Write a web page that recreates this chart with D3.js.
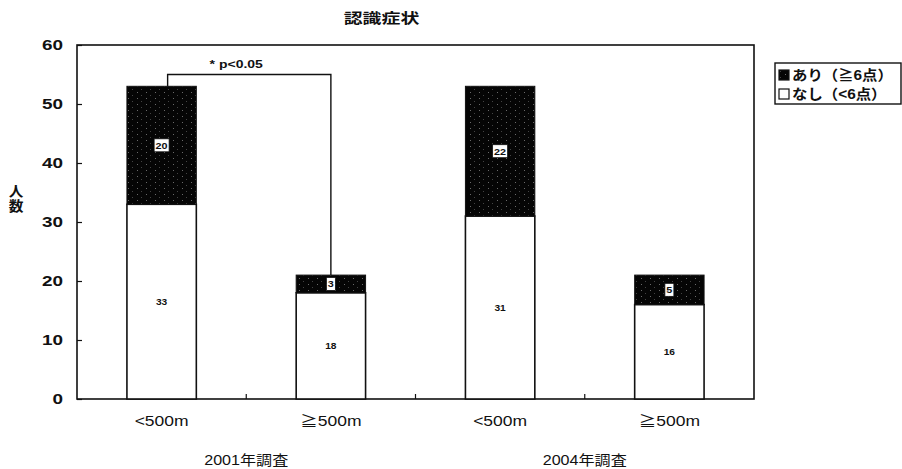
<!DOCTYPE html>
<html>
<head>
<meta charset="utf-8">
<script src="https://cdn.jsdelivr.net/npm/d3@7"></script>
<style>
  body { margin: 0; background: #fff; }
  svg text { font-family: "Liberation Sans", "Noto Sans CJK JP", sans-serif; fill: #111; }
</style>
</head>
<body>
<div id="plot"></div>
<script>
var categories = ["<500m", "≧500m", "<500m", "≧500m"];
var groups = ["2001年調査", "2004年調査"];
var withSymptom = [20, 3, 22, 5];
var withoutSymptom = [33, 18, 31, 16];
var yTicks = [0, 10, 20, 30, 40, 50, 60];
var legendLabels = ["あり（≧6点）", "なし（<6点）"];
var title = "認識症状";
var yTitle = ["人", "数"];
var sigLevel = 55;
var sigText = "* p<0.05";

const w = 902;
const h = 469;
const plotLeft = 77, plotRight = 754, plotTop = 45, plotBottom = 399;
const sx = 1.35; // scan is stretched sideways

const svg = d3.select("div#plot")
  .append("svg")
  .attr("width", w)
  .attr("height", h);

// stipple pattern for the dark part
const defs = svg.append("defs");
const pat = defs.append("pattern")
  .attr("id", "dark")
  .attr("patternUnits", "userSpaceOnUse")
  .attr("width", 9)
  .attr("height", 6);
pat.append("rect").attr("width", 9).attr("height", 6).attr("fill", "#050505");
pat.append("rect").attr("x", 2).attr("y", 2).attr("width", 1).attr("height", 1).attr("fill", "#6a6a6a");
pat.append("rect").attr("x", 6).attr("y", 5).attr("width", 1).attr("height", 1).attr("fill", "#444");

let xScale = d3.scaleBand()
  .domain(d3.range(categories.length))
  .range([plotLeft, plotRight])
  .paddingInner(0.59)
  .paddingOuter(0.295);
let yScale = d3.scaleLinear().domain([0, 60]).range([plotBottom, plotTop]);
const bw = xScale.bandwidth();

function label(x, y, text, size, anchor, weight, scale) {
  return svg.append("text")
    .attr("transform", `translate(${x},${y}) scale(${scale || sx},1)`)
    .attr("text-anchor", anchor || "middle")
    .attr("font-size", size)
    .attr("font-weight", weight || "normal")
    .text(text);
}

// frame
svg.append("rect")
  .attr("x", plotLeft).attr("y", plotTop)
  .attr("width", plotRight - plotLeft).attr("height", plotBottom - plotTop)
  .attr("fill", "none").attr("stroke", "#111").attr("stroke-width", 1.6);

// y axis
const yAxis = d3.axisLeft(yScale)
  .tickValues(yTicks)
  .tickSizeInner(-5)
  .tickSizeOuter(0)
  .tickPadding(14 / sx)
  .tickFormat(d => d);
const yg = svg.append("g")
  .attr("transform", `translate(${plotLeft},0)`)
  .call(yAxis);
yg.select(".domain").remove();
yg.selectAll(".tick line").attr("stroke", "#111").attr("stroke-width", 1.2);
yg.selectAll(".tick text")
  .attr("font-size", 14)
  .attr("font-weight", "bold")
  .attr("font-family", "Liberation Sans, sans-serif")
  .attr("fill", "#111")
  .attr("transform", `scale(${sx},1)`);

// small ticks on the bottom between categories
svg.selectAll(".xtick")
  .data(d3.range(categories.length - 1))
  .enter()
  .append("line")
  .attr("class", "xtick")
  .attr("x1", i => xScale(i) + xScale.step() - xScale.step() * 0.295)
  .attr("x2", i => xScale(i) + xScale.step() - xScale.step() * 0.295)
  .attr("y1", plotBottom)
  .attr("y2", plotBottom - 5)
  .attr("stroke", "#111")
  .attr("stroke-width", 1.2);

// bars
const idx = d3.range(categories.length);
svg.selectAll(".bar-low")
  .data(idx)
  .enter()
  .append("rect")
  .attr("class", "bar-low")
  .attr("x", i => xScale(i))
  .attr("y", i => yScale(withoutSymptom[i]))
  .attr("width", bw)
  .attr("height", i => yScale(0) - yScale(withoutSymptom[i]))
  .attr("fill", "#fff")
  .attr("stroke", "#111")
  .attr("stroke-width", 1.6);

svg.selectAll(".bar-high")
  .data(idx)
  .enter()
  .append("rect")
  .attr("class", "bar-high")
  .attr("x", i => xScale(i))
  .attr("y", i => yScale(withoutSymptom[i] + withSymptom[i]))
  .attr("width", bw)
  .attr("height", i => yScale(withoutSymptom[i]) - yScale(withoutSymptom[i] + withSymptom[i]))
  .attr("fill", "url(#dark)")
  .attr("stroke", "#111")
  .attr("stroke-width", 1);

// value labels
idx.forEach(i => {
  const cx = xScale(i) + bw / 2;
  const yLow = (yScale(0) + yScale(withoutSymptom[i])) / 2;
  label(cx, yLow + 3, withoutSymptom[i], 8.5, "middle", "bold", 1.2);

  const yHigh = (yScale(withoutSymptom[i]) + yScale(withoutSymptom[i] + withSymptom[i])) / 2;
  const txt = String(withSymptom[i]);
  const bwid = txt.length * 6 + 3;
  svg.append("rect")
    .attr("x", cx - bwid / 2)
    .attr("y", yHigh - 6.5)
    .attr("width", bwid)
    .attr("height", 13)
    .attr("fill", "#fff")
    .attr("stroke", "#111")
    .attr("stroke-width", 0.8);
  label(cx, yHigh + 3.5, txt, 9, "middle", "bold", 1.2);
});

// significance bracket
const bx1 = xScale(0) + bw / 2 + 6;
const bx2 = xScale(1) + bw / 2;
svg.append("path")
  .attr("d", `M${bx1},${yScale(withoutSymptom[0] + withSymptom[0])}V${yScale(sigLevel)}H${bx2}V${yScale(withoutSymptom[1] + withSymptom[1])}`)
  .attr("fill", "none")
  .attr("stroke", "#111")
  .attr("stroke-width", 1.4);
label((bx1 + bx2) / 2 - 13, yScale(sigLevel) - 7, sigText, 10, "middle", "bold", 1.4);

// category labels
idx.forEach(i => {
  label(xScale(i) + bw / 2, 426, categories[i], 14, "middle", "normal", 1.25);
});

// group labels
groups.forEach((g, k) => {
  const a = xScale(k * 2) + bw / 2;
  const b = xScale(k * 2 + 1) + bw / 2;
  label((a + b) / 2, 465, g, 14, "middle", "normal", 1.15);
});

// title
label((plotLeft + plotRight) / 2 - 34, 23, title, 14, "middle", "bold", sx);

// y title, stacked vertically
yTitle.forEach((c, k) => {
  label(16, 196 + k * 15, c, 14, "middle", "bold", 1.05);
});

// legend
svg.append("rect")
  .attr("x", 775).attr("y", 63)
  .attr("width", 126).attr("height", 41)
  .attr("fill", "#fff").attr("stroke", "#111").attr("stroke-width", 1.4);
const swFill = ["url(#dark)", "#fff"];
legendLabels.forEach((t, k) => {
  const ly = 70 + k * 19;
  svg.append("rect")
    .attr("x", 779).attr("y", ly)
    .attr("width", 10).attr("height", 10)
    .attr("fill", swFill[k])
    .attr("stroke", "#111")
    .attr("stroke-width", 1.2);
  label(792, ly + 10, t, 14, "start", "bold", 1.1);
});
</script>
</body>
</html>
